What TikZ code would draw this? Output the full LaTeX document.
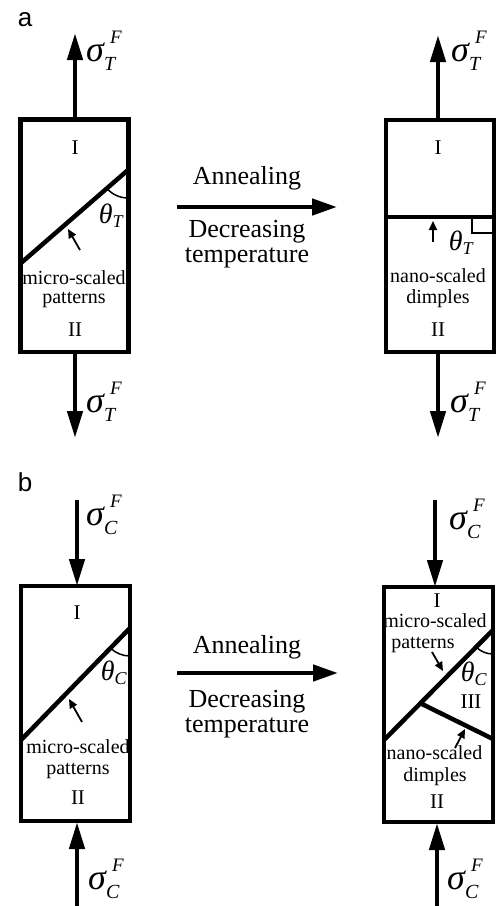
\documentclass[tikz,border=0pt]{standalone}
\usepackage{amsmath}
\usepackage{fontspec}
\setmainfont{Liberation Serif}
\newfontfamily\panelfont{Liberation Sans}
\usetikzlibrary{arrows.meta}
\DeclareMathSizes{28}{28}{18}{14}
\newcommand{\itx}[1]{\text{\itshape #1}}
\newcommand{\sigF}[1]{{\itshape
  \makebox[0pt][l]{\fontsize{36}{36}\selectfont σ}%
  \hspace{18pt}%
  \makebox[0pt][l]{\raisebox{18pt}{\fontsize{19}{20}\selectfont\hspace{6pt}F}}%
  \raisebox{-9pt}{\fontsize{20}{20}\selectfont #1}}}
\newcommand{\thetaX}[1]{\fontsize{28}{32}\selectfont$\itx{θ}_{\itx{#1}}$}
\tikzset{
  boxline/.style={line width=4.5pt},
  force/.style={line width=4.5pt,-{Triangle[length=27pt,width=15pt]}},
  process/.style={line width=4.5pt,-{Triangle[length=25pt,width=16pt]}},
  pointer/.style={line width=1.8pt,-{Triangle[length=9pt,width=8pt]}},
  anglemark/.style={line width=1.5pt},
  small/.style={font=\fontsize{20}{22}\selectfont,inner sep=0pt},
  smalltwo/.style={font=\fontsize{20}{21}\selectfont,inner sep=0pt,align=center},
  roman/.style={font=\fontsize{21}{24}\selectfont,inner sep=0pt},
  caption/.style={font=\fontsize{26}{28}\selectfont,inner sep=0pt},
  sig/.style={inner sep=0pt,anchor=base west},
  anglelabel/.style={inner sep=0pt},
  panel/.style={font=\panelfont\fontsize{26}{28}\selectfont,inner sep=0pt}
}
\begin{document}
\begin{tikzpicture}[x=1pt,y=1pt]
\useasboundingbox (0,-906) rectangle (497,0);

% ================= panel a =================
\node[panel] (la) at (25,-20) {a};

% left box
\coordinate (aL1) at (20.5,-119.5);
\coordinate (aL2) at (128.5,-352);
\draw[boxline] (aL1) rectangle (aL2);
\coordinate (aLd1) at (21,-263);
\coordinate (aLd2) at (128,-170);
\draw[boxline] (aLd1) -- (aLd2);
\draw[anglemark] ([shift={(221:28)}]aLd2) arc[start angle=221,end angle=270,radius=28];
\node[anglelabel] (aLth) at (111,-216) {\thetaX{T}};
\coordinate (aLp1) at (80,-250);
\coordinate (aLp2) at (68,-229);
\draw[pointer] (aLp1) -- (aLp2);
\node[roman] (aLI) at (75,-148) {I};
\node[small] (aLm) at (74,-278) {micro-scaled};
\node[small] (aLp) at (74,-300) {patterns};
\node[roman] (aLII) at (75,-330) {II};
\coordinate (aLt0) at (75,-120);
\coordinate (aLt1) at (75,-33);
\draw[force] (aLt0) -- (aLt1);
\node[sig] (aLs1) at (86,-61) {\sigF{T}};
\coordinate (aLb0) at (75,-352);
\coordinate (aLb1) at (75,-438);
\draw[force] (aLb0) -- (aLb1);
\node[sig] (aLs2) at (86,-412) {\sigF{T}};

% process arrow a
\coordinate (aA0) at (177,-207);
\coordinate (aA1) at (337,-207);
\draw[process] (aA0) -- (aA1);
\node[caption] (aAn) at (247,-178) {Annealing};
\node[caption] (aDe) at (247,-232) {Decreasing};
\node[caption] (aTe) at (247,-258) {temperature};

% right box
\coordinate (aR1) at (386,-120);
\coordinate (aR2) at (494,-352);
\draw[boxline] (aR1) rectangle (aR2);
\coordinate (aRh1) at (386,-217);
\coordinate (aRh2) at (494,-217);
\draw[boxline] (aRh1) -- (aRh2);
\coordinate (aRq1) at (472,-219);
\coordinate (aRq2) at (472,-233);
\coordinate (aRq3) at (492,-233);
\draw[anglemark] (aRq1) -- (aRq2) -- (aRq3);
\node[anglelabel] (aRth) at (461,-243) {\thetaX{T}};
\coordinate (aRp1) at (433,-242);
\coordinate (aRp2) at (433,-221);
\draw[pointer] (aRp1) -- (aRp2);
\node[roman] (aRI) at (438,-148) {I};
\node[small] (aRn) at (438,-276) {nano-scaled};
\node[small] (aRd) at (438,-299) {dimples};
\node[roman] (aRII) at (438,-330) {II};
\coordinate (aRt0) at (438,-120);
\coordinate (aRt1) at (438,-35);
\draw[force] (aRt0) -- (aRt1);
\node[sig] (aRs1) at (451,-61) {\sigF{T}};
\coordinate (aRb0) at (438,-352);
\coordinate (aRb1) at (438,-438);
\draw[force] (aRb0) -- (aRb1);
\node[sig] (aRs2) at (450,-412) {\sigF{T}};

% ================= panel b =================
\node[panel] (lb) at (25,-482) {b};

% left box
\coordinate (bL1) at (21,-586);
\coordinate (bL2) at (130,-821);
\draw[boxline] (bL1) rectangle (bL2);
\coordinate (bLd1) at (21,-740);
\coordinate (bLd2) at (130,-628);
\draw[boxline] (bLd1) -- (bLd2);
\draw[anglemark] ([shift={(225.8:28)}]bLd2) arc[start angle=225.8,end angle=270,radius=28];
\node[anglelabel] (bLth) at (114,-673) {\thetaX{C}};
\coordinate (bLp1) at (82,-722);
\coordinate (bLp2) at (69,-699);
\draw[pointer] (bLp1) -- (bLp2);
\node[roman] (bLI) at (77,-613) {I};
\node[smalltwo] (bLm) at (78,-759) {micro-scaled\\patterns};
\node[roman] (bLII) at (78,-798) {II};
\coordinate (bLt0) at (77,-500);
\coordinate (bLt1) at (77,-586);
\draw[force] (bLt0) -- (bLt1);
\node[sig] (bLs1) at (86,-525) {\sigF{C}};
\coordinate (bLb0) at (77,-906);
\coordinate (bLb1) at (77,-822);
\draw[force] (bLb0) -- (bLb1);
\node[sig] (bLs2) at (88,-889) {\sigF{C}};

% process arrow b
\coordinate (bA0) at (177,-673);
\coordinate (bA1) at (338,-673);
\draw[process] (bA0) -- (bA1);
\node[caption] (bAn) at (247,-647) {Annealing};
\node[caption] (bDe) at (247,-702) {Decreasing};
\node[caption] (bTe) at (247,-728) {temperature};

% right box
\coordinate (bR1) at (384,-587);
\coordinate (bR2) at (493,-822);
\draw[boxline] (bR1) rectangle (bR2);
\coordinate (bRd1) at (384,-740);
\coordinate (bRd2) at (493,-630);
\draw[boxline] (bRd1) -- (bRd2);
\coordinate (bRe1) at (422,-704);
\coordinate (bRe2) at (493,-739);
\draw[boxline] (bRe1) -- (bRe2);
\draw[anglemark] ([shift={(225.3:24)}]bRd2) arc[start angle=225.3,end angle=270,radius=24];
\node[anglelabel] (bRth) at (474,-674) {\thetaX{C}};
\node[roman] (bRIII) at (471,-702) {III};
\coordinate (bRp1) at (432,-652);
\coordinate (bRp2) at (443,-671);
\draw[pointer] (bRp1) -- (bRp2);
\coordinate (bRq1) at (455,-748);
\coordinate (bRq2) at (465,-729);
\draw[pointer] (bRq1) -- (bRq2);
\node[roman] (bRI) at (437,-601) {I};
\node[small] (bRm) at (435,-621) {micro-scaled};
\node[small] (bRp) at (423,-645) {patterns};
\node[small] (bRn) at (434.5,-753) {nano-scaled};
\node[small] (bRd) at (435,-777) {dimples};
\node[roman] (bRII) at (437,-802) {II};
\coordinate (bRt0) at (435,-500);
\coordinate (bRt1) at (435,-587);
\draw[force] (bRt0) -- (bRt1);
\node[sig] (bRs1) at (449,-529) {\sigF{C}};
\coordinate (bRb0) at (437,-906);
\coordinate (bRb1) at (437,-823);
\draw[force] (bRb0) -- (bRb1);
\node[sig] (bRs2) at (447,-889) {\sigF{C}};
\end{tikzpicture}
\end{document}
